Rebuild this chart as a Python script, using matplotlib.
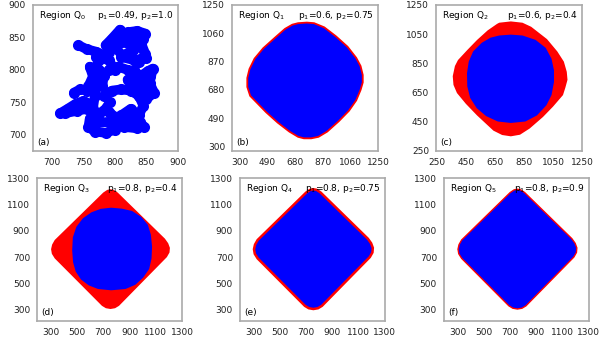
import numpy as np
import matplotlib
matplotlib.use('Agg')
import matplotlib.pyplot as plt

# panel (a): random cluster, traced as branches (x, y)
cluster_paths = [
    [(713, 733), (725, 740), (738, 748), (750, 752), (760, 748), (768, 735)],
    [(720, 733), (740, 737), (755, 740)],
    [(760, 725), (758, 712), (768, 705), (785, 703), (800, 708), (812, 720), (825, 725), (840, 720), (846, 712)],
    [(770, 718), (790, 720), (810, 730), (825, 740)],
    [(775, 732), (785, 740), (792, 750)],
    [(790, 735), (800, 728), (815, 712), (835, 710)],
    [(765, 740), (768, 760), (772, 780), (768, 800), (775, 815), (790, 828), (805, 845), (820, 858), (835, 860), (848, 856)],
    [(742, 838), (755, 832), (770, 828), (785, 822)],
    [(770, 820), (790, 815), (800, 800)],
    [(758, 775), (765, 790), (760, 805)],
    [(775, 800), (782, 790), (780, 775)],
    [(785, 838), (795, 848), (808, 862)],
    [(805, 855), (825, 852), (845, 848)],
    [(800, 840), (820, 842), (840, 835)],
    [(810, 820), (830, 815), (850, 818)],
    [(800, 835), (812, 822), (828, 830), (842, 840), (848, 825), (838, 812)],
    [(830, 800), (840, 790), (852, 798), (860, 802), (855, 780), (862, 765), (850, 755), (838, 760)],
    [(820, 785), (840, 780), (855, 790)],
    [(825, 775), (845, 770)],
    [(782, 760), (795, 768), (810, 770), (825, 768), (838, 760), (845, 745), (838, 730), (830, 735)],
    [(735, 765), (745, 770), (755, 768)],
    [(790, 800), (805, 805), (820, 800), (828, 790), (833, 778)],
]

# panel (b) outline
b_outer = [(700, 1128), (760, 1132), (810, 1128), (880, 1100), (960, 1040), (1040, 970), (1100, 895),
           (1130, 840), (1145, 780), (1145, 730), (1130, 680), (1100, 610), (1050, 540), (980, 470),
           (900, 400), (840, 365), (790, 355), (740, 355), (700, 365), (640, 400), (560, 460), (480, 530),
           (420, 590), (370, 640), (350, 700), (350, 760), (365, 820), (400, 890), (460, 960), (540, 1030),
           (610, 1090), (660, 1118)]

# panel (c) outlines
c_outer = [(680, 1128), (760, 1137), (840, 1128), (900, 1100), (1009, 1015), (1080, 930), (1125, 860),
           (1145, 790), (1150, 735), (1135, 680), (1119, 630), (1050, 550), (981, 479), (890, 400),
           (823, 357), (760, 346), (700, 355), (640, 385), (527, 490), (450, 570), (389, 644), (365, 700),
           (360, 760), (375, 830), (396, 871), (460, 940), (527, 1009), (600, 1075), (665, 1120)]
c_inner = [(680, 1040), (760, 1046), (840, 1040), (930, 1010), (1000, 955), (1040, 880), (1057, 800),
           (1057, 720), (1040, 630), (1005, 560), (940, 490), (860, 448), (760, 438), (670, 448),
           (590, 485), (525, 540), (480, 610), (460, 690), (458, 780), (470, 860), (500, 930),
           (560, 990), (620, 1025)]

# panels (d)-(f) outer diamond and (d) inner region
diamond = [(700, 1190), (730, 1210), (755, 1215), (780, 1210), (810, 1190), (1170, 840), (1195, 805),
           (1208, 770), (1205, 735), (1185, 700), (820, 330), (790, 312), (755, 306), (720, 312),
           (690, 330), (330, 690), (308, 725), (302, 760), (310, 795), (330, 830)]
d_inner = [(680, 1066), (760, 1075), (840, 1068), (920, 1050), (990, 1005), (1040, 945), (1063, 870),
           (1072, 780), (1068, 690), (1050, 610), (1005, 545), (945, 490), (870, 458), (760, 448),
           (660, 458), (590, 485), (530, 530), (490, 590), (470, 660), (463, 750), (468, 850),
           (495, 930), (545, 995), (610, 1040)]

ticks_a = [700, 750, 800, 850, 900]
ticks_b = [300, 490, 680, 870, 1060, 1250]
ticks_c = [250, 450, 650, 850, 1050, 1250]
ticks_d = [300, 500, 700, 900, 1100, 1300]

region_names = ['Region Q$_0$', 'Region Q$_1$', 'Region Q$_2$', 'Region Q$_3$', 'Region Q$_4$', 'Region Q$_5$']
p_labels = ['p$_1$=0.49, p$_2$=1.0', 'p$_1$=0.6, p$_2$=0.75', 'p$_1$=0.6, p$_2$=0.4',
            'p$_1$=0.8, p$_2$=0.4', 'p$_1$=0.8, p$_2$=0.75', 'p$_1$=0.8, p$_2$=0.9']
letters = ['(a)', '(b)', '(c)', '(d)', '(e)', '(f)']

fig = plt.figure(figsize=(6.09, 3.42), dpi=100)

positions = [
    [0.0542, 0.5585, 0.2381, 0.4269],
    [0.381, 0.5585, 0.2397, 0.4269],
    [0.716, 0.5585, 0.2397, 0.4269],
    [0.0608, 0.0614, 0.238, 0.418],
    [0.394, 0.0614, 0.238, 0.418],
    [0.729, 0.0614, 0.238, 0.418],
]
limits = [
    ((670, 900), (675, 900), ticks_a),
    ((245, 1250), (270, 1250), ticks_b),
    ((245, 1250), (245, 1250), ticks_c),
    ((195, 1300), (215, 1300), ticks_d),
    ((195, 1300), (215, 1300), ticks_d),
    ((195, 1300), (215, 1300), ticks_d),
]

axes = []
for i, pos in enumerate(positions):
    ax = fig.add_axes(pos)
    xl, yl, tk = limits[i]
    ax.set_xlim(xl)
    ax.set_ylim(yl)
    ax.set_xticks(tk)
    ax.set_yticks(tk)
    ax.tick_params(length=0, labelsize=6.5, pad=5, colors='#222222')
    for s in ax.spines.values():
        s.set_color('#aaaaaa')
        s.set_linewidth(1.2)
    ax.text(0.04, 0.97, region_names[i], transform=ax.transAxes, fontsize=6.5, va='top', ha='left')
    ax.text(0.97, 0.97, p_labels[i], transform=ax.transAxes, fontsize=6.5, va='top', ha='right')
    ax.text(0.03, 0.03, letters[i], transform=ax.transAxes, fontsize=6.5, va='bottom', ha='left')
    axes.append(ax)

blue = '#0000ff'
red = '#ff0000'

# (a)
for path in cluster_paths:
    xs, ys = zip(*path)
    axes[0].plot(xs, ys, color=blue, lw=7, solid_capstyle='round', solid_joinstyle='round')
    axes[0].plot(xs, ys, 'o', color=blue, ms=8, mew=0)

# (b)
xs, ys = zip(*b_outer)
axes[1].fill(xs, ys, facecolor=blue, edgecolor=red, lw=1.3)

# (c)
xs, ys = zip(*c_outer)
axes[2].fill(xs, ys, color=red, lw=0)
xs, ys = zip(*c_inner)
axes[2].fill(xs, ys, color=blue, lw=0)

# (d)
xs, ys = zip(*diamond)
axes[3].fill(xs, ys, color=red, lw=0)
xs, ys = zip(*d_inner)
axes[3].fill(xs, ys, color=blue, lw=0)

# (e), (f)
xs, ys = zip(*diamond)
axes[4].fill(xs, ys, facecolor=blue, edgecolor=red, lw=1.8)
axes[5].fill(xs, ys, facecolor=blue, edgecolor=red, lw=1.0)

fig.savefig('out.png', dpi=100)
